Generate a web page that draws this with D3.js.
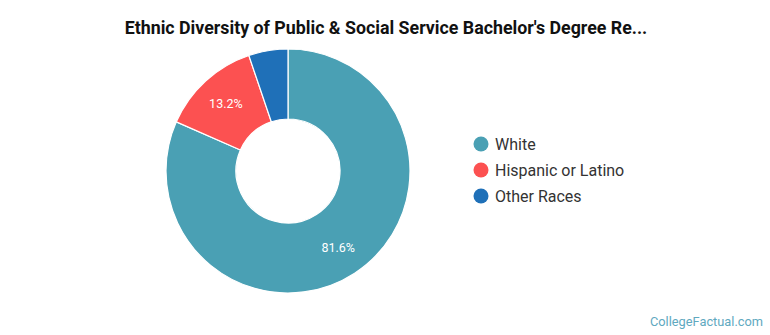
<!DOCTYPE html>
<html>
<head>
<meta charset="utf-8">
<script src="https://cdn.jsdelivr.net/npm/d3@7"></script>
<style>
  body { margin: 0; background: #fff; }
  svg { font-family: Roboto, "Noto Sans", sans-serif; }
</style>
</head>
<body>
<div id="chart"></div>
<script>
const categories = ["White", "Hispanic or Latino", "Other Races"];
const values = [81.6, 13.2, 5.2];
const colors = ["#4aa0b4", "#fc5151", "#1f70b8"];
const title = "Ethnic Diversity of Public & Social Service Bachelor's Degree Re...";

const width = 770, height = 335;
const cx = 288, cy = 171, outerR = 122, innerR = 52, labelR = 92;

const svg = d3.select("#chart").append("svg")
    .attr("width", width)
    .attr("height", height);

svg.append("text")
    .attr("x", 386)
    .attr("y", 34)
    .attr("text-anchor", "middle")
    .style("font-size", "17.8px")
    .style("font-weight", "bold")
    .style("fill", "#111")
    .text(title);

let data = categories.map(function(c, i) {
    return { label: c, value: values[i], color: colors[i] };
});

let pie = d3.pie()
    .sort(null)
    .value(function(d) { return d.value; });

let arc = d3.arc()
    .outerRadius(outerR)
    .innerRadius(innerR);

let labelArc = d3.arc()
    .outerRadius(labelR)
    .innerRadius(labelR);

let g = svg.append("g")
    .attr("transform", "translate(" + cx + "," + cy + ")");

g.selectAll("path.slice")
    .data(pie(data))
    .enter()
    .append("path")
    .attr("class", "slice")
    .attr("d", arc)
    .style("fill", function(d) { return d.data.color; })
    .style("stroke", "#fff")
    .style("stroke-width", 1.2);

// only slices big enough get a label
g.selectAll("text.pct")
    .data(pie(data).filter(function(d) { return d.data.value > 10; }))
    .enter()
    .append("text")
    .attr("class", "pct")
    .attr("transform", function(d) { return "translate(" + labelArc.centroid(d) + ")"; })
    .attr("dy", "0.35em")
    .attr("text-anchor", "middle")
    .style("font-size", "12.5px")
    .style("fill", "#fff")
    .text(function(d) { return d.data.value.toFixed(1) + "%"; });

let legend = svg.append("g")
    .attr("transform", "translate(481,144)");

let item = legend.selectAll("g.item")
    .data(data)
    .enter()
    .append("g")
    .attr("class", "item")
    .attr("transform", function(d, i) { return "translate(0," + i * 26 + ")"; });

item.append("circle")
    .attr("r", 7.5)
    .style("fill", function(d) { return d.color; });

item.append("text")
    .attr("x", 14)
    .attr("dy", "0.35em")
    .style("font-size", "16px")
    .style("fill", "#333")
    .text(function(d) { return d.label; });

svg.append("text")
    .attr("x", 763)
    .attr("y", 326)
    .attr("text-anchor", "end")
    .style("font-size", "12.8px")
    .style("fill", "#5fa9bf")
    .text("CollegeFactual.com");
</script>
</body>
</html>
